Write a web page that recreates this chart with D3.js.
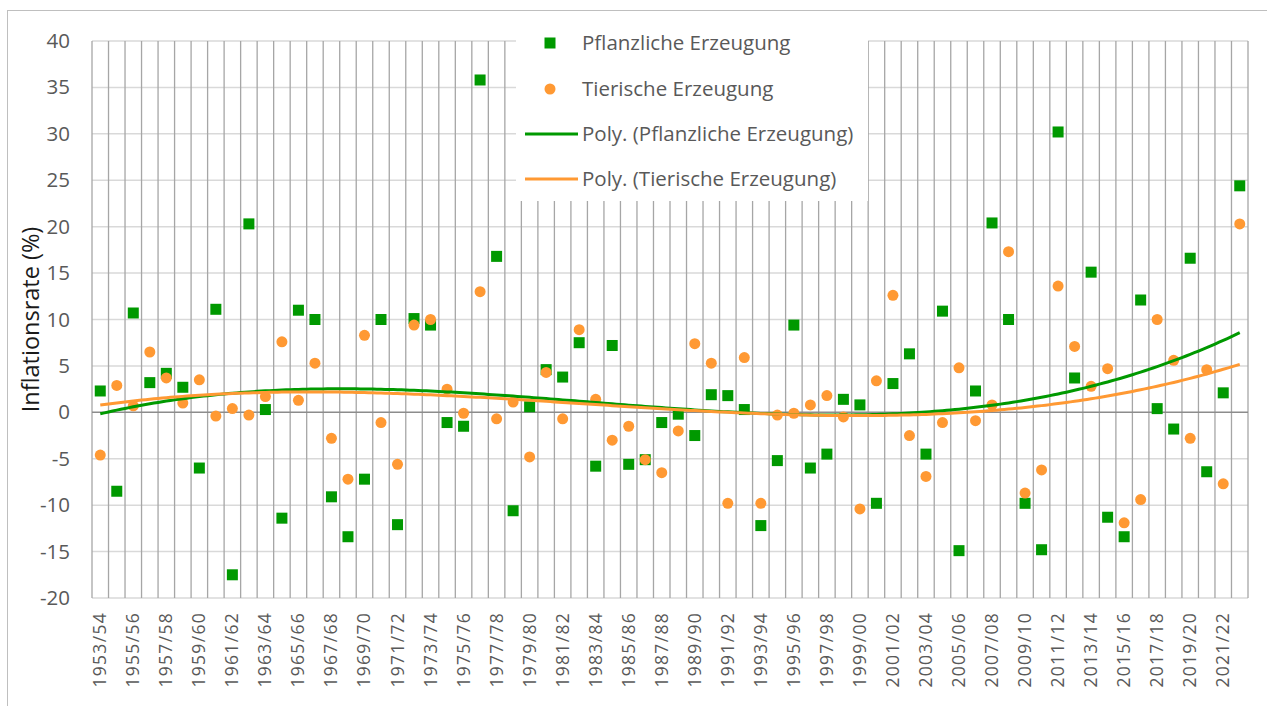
<!DOCTYPE html>
<html>
<head>
<meta charset="utf-8">
<script src="https://cdn.jsdelivr.net/npm/d3@7"></script>
<style>
  body { margin: 0; background: #fff; }
  text { font-family: "Open Sans", sans-serif; }
</style>
</head>
<body>
<svg id="chart" width="1267" height="706"></svg>
<script>
const categories = [
  "1953/54","1954/55","1955/56","1956/57","1957/58","1958/59","1959/60","1960/61","1961/62","1962/63",
  "1963/64","1964/65","1965/66","1966/67","1967/68","1968/69","1969/70","1970/71","1971/72","1972/73",
  "1973/74","1974/75","1975/76","1976/77","1977/78","1978/79","1979/80","1980/81","1981/82","1982/83",
  "1983/84","1984/85","1985/86","1986/87","1987/88","1988/89","1989/90","1990/91","1991/92","1992/93",
  "1993/94","1994/95","1995/96","1996/97","1997/98","1998/99","1999/00","2000/01","2001/02","2002/03",
  "2003/04","2004/05","2005/06","2006/07","2007/08","2008/09","2009/10","2010/11","2011/12","2012/13",
  "2013/14","2014/15","2015/16","2016/17","2017/18","2018/19","2019/20","2020/21","2021/22","2022/23"
];

// Pflanzliche Erzeugung (%)
const pflanzlich = [
  2.3, -8.5, 10.7, 3.2, 4.2, 2.7, -6.0, 11.1, -17.5, 20.3,
  0.3, -11.4, 11.0, 10.0, -9.1, -13.4, -7.2, 10.0, -12.1, 10.1,
  9.4, -1.1, -1.5, 35.8, 16.8, -10.6, 0.6, 4.6, 3.8, 7.5,
  -5.8, 7.2, -5.6, -5.1, -1.1, -0.2, -2.5, 1.9, 1.8, 0.3,
  -12.2, -5.2, 9.4, -6.0, -4.5, 1.4, 0.8, -9.8, 3.1, 6.3,
  -4.5, 10.9, -14.9, 2.3, 20.4, 10.0, -9.8, -14.8, 30.2, 3.7,
  15.1, -11.3, -13.4, 12.1, 0.4, -1.8, 16.6, -6.4, 2.1, 24.4
];

// Tierische Erzeugung (%)
const tierisch = [
  -4.6, 2.9, 0.7, 6.5, 3.7, 1.0, 3.5, -0.4, 0.4, -0.3,
  1.7, 7.6, 1.3, 5.3, -2.8, -7.2, 8.3, -1.1, -5.6, 9.4,
  10.0, 2.5, -0.1, 13.0, -0.7, 1.1, -4.8, 4.3, -0.7, 8.9,
  1.4, -3.0, -1.5, -5.1, -6.5, -2.0, 7.4, 5.3, -9.8, 5.9,
  -9.8, -0.3, -0.1, 0.8, 1.8, -0.5, -10.4, 3.4, 12.6, -2.5,
  -6.9, -1.1, 4.8, -0.9, 0.8, 17.3, -8.7, -6.2, 13.6, 7.1,
  2.8, 4.7, -11.9, -9.4, 10.0, 5.6, -2.8, 4.6, -7.7, 20.3
];

const yTicks = [-20, -15, -10, -5, 0, 5, 10, 15, 20, 25, 30, 35, 40];
const legendLabels = ["Pflanzliche Erzeugung", "Tierische Erzeugung",
  "Poly. (Pflanzliche Erzeugung)", "Poly. (Tierische Erzeugung)"];

const green = "#009900";
const orange = "#ff9933";
const textColor = "#595959";

const svg = d3.select("#chart");
const plotLeft = 92, plotRight = 1248, plotTop = 41, plotBottom = 598;

// outer chart frame
svg.append("rect")
  .attr("x", 7.5).attr("y", 10.5)
  .attr("width", 1300).attr("height", 800)
  .attr("fill", "none").attr("stroke", "#bfbfbf").attr("stroke-width", 1);

const x = d3.scaleBand().domain(categories).range([plotLeft, plotRight]).padding(0);
const bw = x.bandwidth();
const cx = d => x(d) + bw / 2;
const y = d3.scaleLinear().domain([-20, 40]).range([plotBottom, plotTop]);

// horizontal gridlines
svg.append("g")
  .selectAll("line")
  .data(yTicks.filter(d => d !== 0))
  .enter().append("line")
  .attr("x1", plotLeft).attr("x2", plotRight)
  .attr("y1", d => y(d)).attr("y2", d => y(d))
  .attr("stroke", "#d9d9d9").attr("stroke-width", 1.5);

// vertical gridlines at category boundaries
const bounds = categories.map(d => x(d)).concat([plotRight]);
svg.append("g")
  .selectAll("line")
  .data(bounds)
  .enter().append("line")
  .attr("x1", d => d).attr("x2", d => d)
  .attr("y1", plotTop).attr("y2", plotBottom)
  .attr("stroke", "#a6a6a6").attr("stroke-width", 1.3);

// zero line
svg.append("line")
  .attr("x1", plotLeft).attr("x2", plotRight)
  .attr("y1", y(0)).attr("y2", y(0))
  .attr("stroke", "#8c8c8c").attr("stroke-width", 1.5);

// y axis labels
const yAxis = svg.append("g")
  .attr("transform", `translate(${plotLeft},0)`)
  .call(d3.axisLeft(y).tickValues(yTicks).tickSize(0).tickPadding(22).tickFormat(d => String(d)));
yAxis.select(".domain").remove();
yAxis.selectAll("text")
  .attr("fill", textColor)
  .style("font-size", "20.5px")
  .style("font-family", "'Open Sans', sans-serif");

// x axis labels (every second category)
const labeled = categories.filter((d, i) => i % 2 === 0);
const xAxis = svg.append("g")
  .attr("transform", `translate(0,${plotBottom})`)
  .call(d3.axisBottom(x).tickValues(labeled).tickSize(0));
xAxis.select(".domain").remove();
xAxis.selectAll("text")
  .attr("fill", textColor)
  .style("font-size", "17.5px")
  .style("font-family", "'Open Sans', sans-serif")
  .style("letter-spacing", "1.3px")
  .attr("text-anchor", "end")
  .attr("dy", null)
  .attr("y", 0)
  .attr("transform", "translate(6,14) rotate(-90)");

// y title
svg.append("text")
  .attr("transform", `translate(39,${(plotTop + plotBottom) / 2}) rotate(-90)`)
  .attr("text-anchor", "middle")
  .attr("fill", "#1a1a1a")
  .style("font-size", "23.5px")
  .text("Inflationsrate (%)");

// markers
svg.append("g")
  .selectAll("rect")
  .data(pflanzlich)
  .enter().append("rect")
  .attr("x", (d, i) => cx(categories[i]) - 5.5)
  .attr("y", d => y(d) - 5.5)
  .attr("width", 11).attr("height", 11)
  .attr("fill", green);

svg.append("g")
  .selectAll("circle")
  .data(tierisch)
  .enter().append("circle")
  .attr("cx", (d, i) => cx(categories[i]))
  .attr("cy", d => y(d))
  .attr("r", 5.5)
  .attr("fill", orange);

// cubic polynomial trend (least squares, x = 1..n like Excel)
function polyFit(vals, order) {
  const n = order + 1;
  const A = [];
  for (let r = 0; r < n; r++) {
    A.push(new Array(n + 1).fill(0));
  }
  vals.forEach((v, i) => {
    const t = i + 1;
    for (let r = 0; r < n; r++) {
      for (let c = 0; c < n; c++) A[r][c] += Math.pow(t, r + c);
      A[r][n] += v * Math.pow(t, r);
    }
  });
  for (let p = 0; p < n; p++) {
    let best = p;
    for (let r = p + 1; r < n; r++) if (Math.abs(A[r][p]) > Math.abs(A[best][p])) best = r;
    [A[p], A[best]] = [A[best], A[p]];
    for (let r = 0; r < n; r++) {
      if (r === p) continue;
      const f = A[r][p] / A[p][p];
      for (let c = p; c <= n; c++) A[r][c] -= f * A[p][c];
    }
  }
  const coef = A.map((row, i) => row[n] / row[i]);
  return t => coef.reduce((s, c, k) => s + c * Math.pow(t, k), 0);
}

const xt = d3.scaleLinear().domain([1, categories.length])
  .range([cx(categories[0]), cx(categories[categories.length - 1])]);

function trend(vals, color) {
  const f = polyFit(vals, 3);
  const pts = d3.range(1, categories.length + 0.001, 0.25).map(t => [t, f(t)]);
  svg.append("path")
    .datum(pts)
    .attr("fill", "none")
    .attr("stroke", color)
    .attr("stroke-width", 3)
    .attr("d", d3.line().x(d => xt(d[0])).y(d => y(d[1])));
}
trend(pflanzlich, green);
trend(tierisch, orange);

// legend
const lg = svg.append("g");
lg.append("rect")
  .attr("x", 516).attr("y", 20).attr("width", 352).attr("height", 181)
  .attr("fill", "#fff");
const rowY = [43, 89, 134, 179];
lg.append("rect").attr("x", 544.5).attr("y", rowY[0] - 5.5).attr("width", 11).attr("height", 11).attr("fill", green);
lg.append("circle").attr("cx", 550).attr("cy", rowY[1]).attr("r", 5.5).attr("fill", orange);
lg.append("line").attr("x1", 525).attr("x2", 578).attr("y1", rowY[2]).attr("y2", rowY[2])
  .attr("stroke", green).attr("stroke-width", 3);
lg.append("line").attr("x1", 525).attr("x2", 578).attr("y1", rowY[3]).attr("y2", rowY[3])
  .attr("stroke", orange).attr("stroke-width", 3);
lg.selectAll("text.leg")
  .data(legendLabels)
  .enter().append("text")
  .attr("class", "leg")
  .attr("x", 582)
  .attr("y", (d, i) => rowY[i])
  .attr("dy", "0.35em")
  .attr("fill", textColor)
  .style("font-size", "20.5px")
  .text(d => d);
</script>
</body>
</html>
